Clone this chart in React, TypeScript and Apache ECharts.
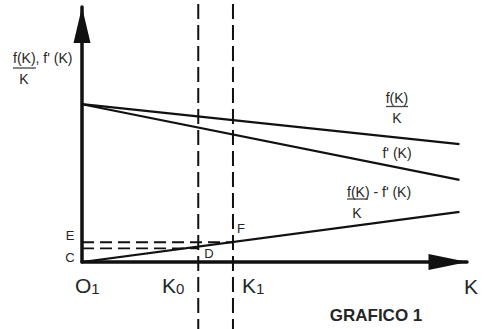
import React, { useEffect, useRef } from "react";
import * as echarts from "echarts";

// Conceptual values (x: capital K, y: ratios)
const lineStartX = 0;
const lineEndX = 10;
const avgProductStart = 9.9; // f(K)/K at origin side
const avgProductEnd = 7.4;
const marginalStart = 9.9; // f'(K)
const marginalEnd = 5.15;
const diffStart = 0; // (f(K) - f'(K))/K
const diffEnd = 3.14;
const K0 = 3.08;
const K1 = 4.0;
const levelE = 1.24;
const levelD = 0.86;
const verticalGuides = [K0, K1];

const INK = "#111";
const TEXT = "#262626";
const FONT = "Liberation Sans, Arial, sans-serif";

export default function App() {
  const ref = useRef<HTMLDivElement>(null);
  useEffect(() => {
    if (!ref.current) return;
    const chart = echarts.init(ref.current, null, { renderer: "svg" });
    const txt = (text: string, x: number, y: number, size: number, align = "center", bold = false) => ({
      type: "text",
      x,
      y,
      style: {
        text,
        fill: TEXT,
        font: `${bold ? "bold " : ""}${size}px ${FONT}`,
        align,
        verticalAlign: "middle",
      },
    });
    const sub = (main: string, s: string, x: number, y: number) => ({
      type: "text",
      x,
      y,
      style: {
        text: `{a|${main}}{b|${s}}`,
        fill: TEXT,
        align: "left",
        verticalAlign: "middle",
        rich: {
          a: { fontSize: 21, fontFamily: FONT, fill: TEXT, verticalAlign: "bottom" },
          b: { fontSize: 15, fontFamily: FONT, fill: TEXT, verticalAlign: "bottom" },
        },
      },
    });
    const bar = (x1: number, x2: number, y: number) => ({
      type: "line",
      shape: { x1, y1: y, x2, y2: y },
      style: { stroke: "#444", lineWidth: 1.3 },
    });
    const solid = { color: INK, width: 2.2 };
    const dashed = { color: INK, width: 1.8, type: [12, 6] };
    chart.setOption({
      animation: false,
      grid: { left: 82, right: 23, top: 7, bottom: 67, containLabel: false },
      xAxis: {
        type: "value",
        min: 0,
        max: 10.2,
        axisLabel: { show: false },
        axisTick: { show: false },
        splitLine: { show: false },
        axisLine: {
          show: true,
          onZero: false,
          lineStyle: { color: INK, width: 3.5 },
          symbol: ["none", "triangle"],
          symbolSize: [16, 39],
          symbolOffset: [0, -19],
        },
      },
      yAxis: {
        type: "value",
        min: 0,
        max: 16,
        axisLabel: { show: false },
        axisTick: { show: false },
        splitLine: { show: false },
        axisLine: {
          show: true,
          onZero: false,
          lineStyle: { color: INK, width: 3.5 },
          symbol: ["none", "triangle"],
          symbolSize: [17, 36],
          symbolOffset: [0, -18],
        },
      },
      series: [
        {
          type: "line",
          symbol: "none",
          lineStyle: solid,
          data: [[lineStartX, avgProductStart], [lineEndX, avgProductEnd]],
        },
        {
          type: "line",
          symbol: "none",
          lineStyle: solid,
          data: [[lineStartX, marginalStart], [lineEndX, marginalEnd]],
        },
        {
          type: "line",
          symbol: "none",
          lineStyle: solid,
          data: [[lineStartX, diffStart], [lineEndX, diffEnd]],
        },
        {
          type: "line",
          symbol: "none",
          lineStyle: dashed,
          z: 1,
          data: [[0, levelE], [K1, levelE]],
        },
        {
          type: "line",
          symbol: "none",
          lineStyle: dashed,
          z: 1,
          data: [[0, levelD], [K0, levelD]],
        },
        {
          type: "custom",
          clip: false,
          z: 1,
          data: verticalGuides.map((k) => [k, 0]),
          encode: { x: 0, y: 1 },
          renderItem: (params: any, api: any) => {
            const px = api.coord([api.value(0), 0])[0];
            return {
              type: "line",
              shape: { x1: px, y1: 4, x2: px, y2: api.getHeight() },
              style: { stroke: INK, lineWidth: 2, lineDash: [15, 6] },
            };
          },
        },
      ],
      graphic: [
        txt("f(K), f' (K)", 13, 58, 14, "left"),
        bar(13, 36, 68),
        txt("K", 24, 79, 14),
        txt("f(K)", 397, 98, 14),
        bar(386, 408, 106.5),
        txt("K", 397, 117.5, 14),
        txt("f' (K)", 397, 153, 14),
        txt("f(K) - f' (K)", 347, 191.5, 14, "left"),
        bar(347, 368, 199),
        txt("K", 357, 213, 14),
        txt("E", 70, 235, 13),
        txt("C", 70, 257, 13),
        txt("F", 241, 228, 13),
        txt("D", 209, 253, 13),
        sub("O", "1", 75, 285),
        sub("K", "0", 162, 285),
        sub("K", "1", 242, 285),
        txt("K", 464, 286, 21, "left"),
        txt("GRAFICO 1", 376, 315, 17, "center", true),
      ],
    });
    return () => chart.dispose();
  }, []);
  return (
    <div
      ref={ref}
      style={{ position: "fixed", left: 0, top: 0, width: 490, height: 329, background: "#fff" }}
    />
  );
}
